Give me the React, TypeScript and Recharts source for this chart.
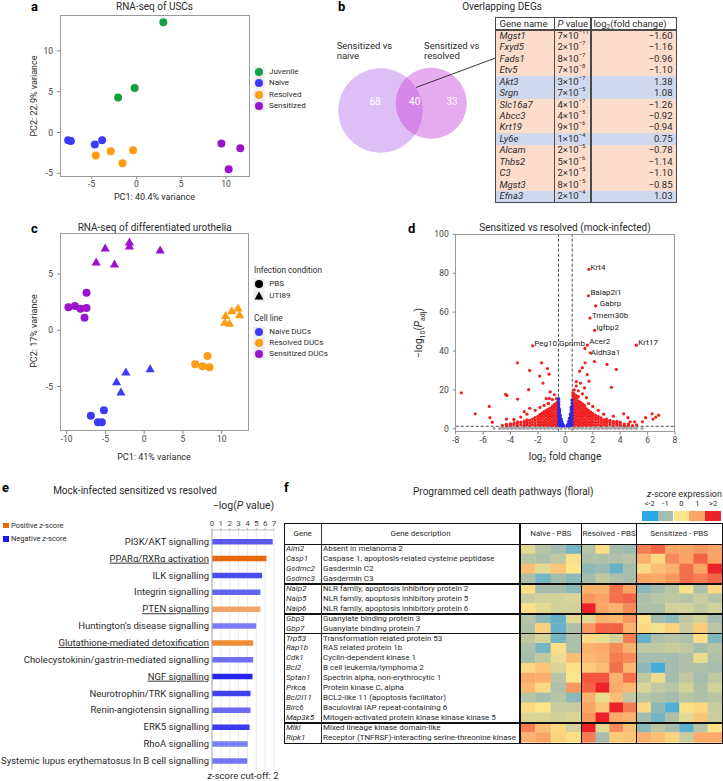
import React from 'react';
import {
  ScatterChart, Scatter, XAxis, YAxis, ReferenceLine,
  BarChart, Bar, Cell, CartesianGrid, PieChart, Pie,
} from 'recharts';

const FONT = "Roboto, 'Noto Sans', 'DejaVu Sans', sans-serif";
const INK = '#2b2b2b';
const AXIS = '#8a8a8a';
const C_GREEN = '#13a043';
const C_BLUE = '#3b3bf6';
const C_ORANGE = '#ff9c12';
const C_PURPLE = '#9c12cc';

type P = { x: number; y: number };
type Col = [number, number[]];

// ---------------- panel a : RNA-seq of USCs
const uscJuvenile: P[] = [{ x: 3.0, y: 13.5 }, { x: -2.05, y: 4.3 }, { x: -0.2, y: 5.45 }];
const uscNaive: P[] = [{ x: -7.63, y: -0.95 }, { x: -7.33, y: -1.03 }, { x: -4.65, y: -1.48 }, { x: -3.84, y: -0.95 }];
const uscResolved: P[] = [{ x: -4.54, y: -2.83 }, { x: -2.87, y: -2.3 }, { x: -1.56, y: -3.78 }, { x: -0.38, y: -2.18 }];
const uscSensitized: P[] = [{ x: 9.49, y: -1.35 }, { x: 11.6, y: -1.93 }, { x: 10.3, y: -4.5 }];
const uscLegend = ['Juvenile', 'Naive', 'Resolved', 'Sensitized'];
const uscTicksX = [-5, 0, 5, 10];
const uscTicksY = [-5, 0, 5, 10];

// ---------------- panel b : overlapping DEGs
const vennSets = [
  { name: 'Sensitized vs naive', value: 108 },
  { name: 'Sensitized vs resolved', value: 73 },
];
const vennCounts = [68, 40, 33];
const degGenes = ['Mgst1', 'Fxyd5', 'Fads1', 'Etv5', 'Akt3', 'Srgn', 'Slc16a7', 'Abcc3', 'Krt19', 'Ly6e', 'Alcam', 'Thbs2', 'C3', 'Mgst3', 'Efna3'];
const degPMant = [7, 2, 8, 7, 3, 7, 4, 4, 9, 1, 2, 5, 2, 8, 2];
const degPExp = [-11, -7, -7, -8, -7, -5, -7, -5, -6, -4, -5, -6, -5, -5, -4];
const degLog2FC = [-1.6, -1.16, -0.96, -1.1, 1.38, 1.08, -1.26, -0.92, -0.94, 0.75, -0.78, -1.14, -1.1, -0.85, 1.03];

// ---------------- panel c : differentiated urothelia
const ducNaivePBS: P[] = [{ x: -5.2, y: -7.12 }, { x: -6.88, y: -7.6 }, { x: -5.97, y: -8.19 }, { x: -5.46, y: -8.19 }];
const ducNaiveUTI: P[] = [{ x: -2.36, y: -3.74 }, { x: 0.77, y: -3.44 }, { x: -3.57, y: -4.6 }, { x: -3.0, y: -5.52 }];
const ducResolvedPBS: P[] = [{ x: 6.58, y: -3.02 }, { x: 7.53, y: -3.2 }, { x: 8.17, y: -2.29 }, { x: 8.43, y: -3.29 }];
const ducResolvedUTI: P[] = [{ x: 10.5, y: 1.3 }, { x: 11.3, y: 1.72 }, { x: 12.1, y: 1.96 }, { x: 12.3, y: 1.36 }, { x: 10.4, y: 0.68 }, { x: 11.0, y: 0.59 }];
const ducSensitizedPBS: P[] = [{ x: -9.77, y: 2.05 }, { x: -8.94, y: 2.16 }, { x: -8.22, y: 1.92 }, { x: -7.44, y: 1.98 }, { x: -7.44, y: 3.35 }, { x: -7.7, y: 1.12 }];
const ducSensitizedUTI: P[] = [{ x: -5.03, y: 7.3 }, { x: -1.9, y: 7.83 }, { x: -1.9, y: 7.47 }, { x: 2.06, y: 7.12 }, { x: -6.19, y: 6.05 }, { x: -3.83, y: 5.87 }];
const ducTicksX = [-10, -5, 0, 5, 10];
const ducTicksY = [-5, 0, 5];
const ducCondition = ['PBS', 'UTI89'];
const ducCellLine = ['Naive DUCs', 'Resolved DUCs', 'Sensitized DUCs'];

// ---------------- panel d : volcano
const volcanoRedLeft: Col[] = [
  [-0.55, [2, 3.5, 5, 6.5, 8, 9.5, 11, 12.5, 14]],
  [-0.65, [1.6, 2.8, 4.2, 5.8, 7.2, 8.8, 10.2, 11.8, 13.2, 15.5]],
  [-0.8, [2.2, 3.8, 5.2, 6.8, 8.2, 9.8, 11.2, 12.6, 17.5]],
  [-0.95, [1.6, 3, 4.4, 6, 7.4, 8.8, 10.4, 11.6, 15]],
  [-1.1, [2, 3.4, 5, 6.4, 7.8, 9.2, 10.6, 19]],
  [-1.25, [1.7, 3, 4.6, 6, 7.4, 8.8, 10, 13]],
  [-1.4, [2.1, 3.6, 5, 6.6, 8, 9.4, 15.5]],
  [-1.55, [1.8, 3.2, 4.6, 6.2, 7.6, 8.8, 12]],
  [-1.7, [2.2, 3.6, 5.2, 6.6, 8]],
  [-1.85, [1.8, 3.2, 4.6, 6, 7.4, 11]],
  [-2.0, [2.1, 3.6, 5, 6.4]],
  [-2.2, [1.8, 3.2, 4.6, 5.8, 9.5]],
  [-2.4, [2.2, 3.6, 5]],
  [-2.6, [1.7, 3, 4.4, 10.5]],
  [-2.8, [2.1, 3.4, 4.6, 7.5]],
  [-3.0, [1.8, 3, 4, 8.8]],
  [-3.25, [2.2, 3.4, 6]],
  [-3.5, [1.7, 2.8, 3.6]],
  [-3.75, [2.1, 3, 4.8]],
  [-4.0, [1.8, 2.6]],
  [-4.3, [1.6, 2.3, 5]],
  [-4.6, [1.8]],
];
const volcanoRedRight: Col[] = [
  [0.55, [2, 3.5, 5, 6.5, 8, 9.5, 11, 12.5, 14, 15.5, 17, 18.5]],
  [0.65, [1.6, 2.8, 4.2, 5.8, 7.2, 8.8, 10.2, 11.8, 13.2, 14.8, 16.2, 17.8, 20]],
  [0.8, [2.2, 3.8, 5.2, 6.8, 8.2, 9.8, 11.2, 12.6, 14, 15.6, 17, 22]],
  [0.95, [1.6, 3, 4.4, 6, 7.4, 8.8, 10.4, 11.6, 13, 14.4, 16.5, 19.5]],
  [1.1, [2, 3.4, 5, 6.4, 7.8, 9.2, 10.6, 12, 13.6, 23.5]],
  [1.25, [1.7, 3, 4.6, 6, 7.4, 8.8, 10, 11.4, 12.8, 18]],
  [1.4, [2.1, 3.6, 5, 6.6, 8, 9.4, 10.8, 12, 21]],
  [1.55, [1.8, 3.2, 4.6, 6.2, 7.6, 8.8, 10.2, 16]],
  [1.7, [2.2, 3.6, 5.2, 6.6, 8, 9.4, 13]],
  [1.85, [1.8, 3.2, 4.6, 6, 7.4, 8.6]],
  [2.0, [2.1, 3.6, 5, 6.4, 7.8, 11.5]],
  [2.2, [1.8, 3.2, 4.6, 5.8, 7]],
  [2.4, [2.2, 3.6, 5, 6.2, 9.5]],
  [2.6, [1.7, 3, 4.4, 5.6]],
  [2.8, [2.1, 3.4, 4.6, 7.5]],
  [3.0, [1.8, 3, 4, 5]],
  [3.25, [2.2, 3.4, 4.4]],
  [3.5, [1.7, 2.8, 3.8, 6.5]],
  [3.75, [2.1, 3, 3.8]],
  [4.0, [1.8, 2.6, 3.4]],
  [4.3, [1.6, 2.4]],
  [4.6, [1.8, 2.6]],
  [4.9, [1.7]],
  [5.2, [2]],
];
const volcanoRedSparse: [number, number][] = [
  [-7.59, 18.5], [-6.57, 7.7], [-5.55, 11.5], [-5.5, 5.7], [-5.33, 3.4], [-4.26, 17.1], [-4.36, 17.7],
  [-3.5, 33.9], [-3.48, 15.3], [-2.6, 30.0], [-2.68, 20.1], [-1.73, 33.9], [-1.31, 31.0], [-1.19, 28.1],
  [-1.87, 27.1], [-1.63, 23.5], [-1.17, 15.6], [-1.24, 13.0],
  [1.44, 33.9], [2.12, 34.6], [3.04, 33.1], [3.72, 30.5], [1.24, 31.4], [1.05, 29.6], [1.6, 27.9],
  [1.73, 24.5], [3.36, 21.3], [0.8, 24.2], [4.26, 7.7], [4.74, 3.6], [5.06, 3.6], [5.62, 3.6],
  [6.33, 7.7], [6.4, 5.0], [6.6, 6.0], [6.81, 7.0], [5.86, 5.7], [4.57, 5.7],
];
const volcanoBlue: Col[] = [
  [-0.48, [2, 3.5, 5, 6.5, 8, 9.5, 11, 12.5, 14, 15.5]],
  [-0.42, [1.8, 3.2, 4.6, 6, 7.4, 8.8, 10]],
  [-0.36, [1.7, 3, 4.3, 5.6, 6.8]],
  [-0.3, [1.6, 2.8, 4, 5]],
  [-0.24, [1.5, 2.5, 3.5]],
  [-0.18, [1.5, 2.3]],
  [-0.12, [1.5]],
  [0.12, [1.5]],
  [0.18, [1.5, 2.3]],
  [0.24, [1.5, 2.6, 3.7]],
  [0.3, [1.6, 2.9, 4.2, 5.4]],
  [0.36, [1.7, 3.1, 4.6, 6, 7.4]],
  [0.42, [1.8, 3.3, 4.8, 6.4, 8, 9.6, 11]],
  [0.48, [2, 3.6, 5.2, 6.8, 8.4, 10, 11.6, 13.2, 14.8]],
];
const volcanoGrayRows: [number, number[]][] = [
  [0.2, [-5.2, -4.8, -4.5, -4.2, -3.9, -3.6, -3.3, -3, -2.7, -2.4, -2.1, -1.8, -1.5, -1.2, -0.9, -0.6, -0.3, 0, 0.3, 0.6, 0.9, 1.2, 1.5, 1.8, 2.1, 2.4, 2.7, 3, 3.3, 3.6, 3.9, 4.2, 4.5, 4.8, 5.2, 5.6]],
  [0.55, [-4.6, -4.3, -4, -3.7, -3.4, -3.1, -2.8, -2.5, -2.2, -1.9, -1.6, -1.3, -1, -0.7, -0.4, 0.4, 0.7, 1, 1.3, 1.6, 1.9, 2.2, 2.5, 2.8, 3.1, 3.4, 3.7, 4, 4.3, 4.6, 5]],
  [0.9, [-4.2, -3.9, -3.6, -3.3, -3, -2.7, -2.4, -2.1, -1.8, -1.5, -1.2, -0.9, -0.6, 0.6, 0.9, 1.2, 1.5, 1.8, 2.1, 2.4, 2.7, 3, 3.3, 3.6, 3.9, 4.2, 4.6]],
  [1.2, [-3.5, -3, -2.5, -2, -1.5, -1, -0.7, 0.7, 1, 1.5, 2, 2.5, 3, 3.5, 4]],
];
const volcanoLabelled = [
  { gene: 'Krt4', x: 1.72, y: 82 },
  { gene: 'Baiap2l1', x: 1.68, y: 68.4 },
  { gene: 'Gabrp', x: 2.21, y: 63.2 },
  { gene: 'Tmem30b', x: 1.8, y: 56.9 },
  { gene: 'Igfbp2', x: 2.14, y: 50.6 },
  { gene: 'Acer2', x: 1.6, y: 43 },
  { gene: 'Aldh3a1', x: 1.82, y: 39.1 },
  { gene: 'Krt17', x: 5.18, y: 43 },
  { gene: 'Peg10', x: -2.39, y: 42.7 },
  { gene: 'Gpnmb', x: 1.43, y: 41.3 },
];
const volcanoTicksX = [-8, -6, -4, -2, 0, 2, 4, 6, 8];
const volcanoTicksY = [0, 20, 40, 60, 80, 100];
const foldCutoff = 0.5;
const padjCutoff = 1.3;

// ---------------- panel e : pathways
const pathways = [
  'PI3K/AKT signalling', 'PPARα/RXRα activation', 'ILK signalling', 'Integrin signalling',
  'PTEN signalling', 'Huntington’s disease signalling', 'Glutathione-mediated detoxification',
  'Cholecystokinin/gastrin-mediated signalling', 'NGF signalling', 'Neurotrophin/TRK signalling',
  'Renin-angiotensin signalling', 'ERK5 signalling', 'RhoA signalling',
  'Systemic lupus erythematosus In B cell signalling',
];
const pathwayLogP = [6.85, 6.15, 5.66, 5.47, 5.47, 4.99, 4.65, 4.65, 4.57, 4.35, 4.35, 4.24, 4.04, 3.98];
const pathwayColors = ['#5a5af2', '#e8680c', '#4c4cf2', '#6464f2', '#f2a468', '#7c7cf4', '#f08c34', '#6e6ef2', '#2424ea', '#4242ee', '#6a6af2', '#3a3aee', '#7e7ef4', '#7676f4'];
const pathwayUnderlined = ['PPARα/RXRα activation', 'PTEN signalling', 'Glutathione-mediated detoxification', 'NGF signalling'];
const pathwayTicks = [0, 1, 2, 3, 4, 5, 6, 7];

// ---------------- panel f : heatmap
const pcdGenes = ['Aim2', 'Casp1', 'Gsdmc2', 'Gsdmc3', 'Naip2', 'Naip5', 'Naip6', 'Gbp3', 'Gbp7', 'Trp53', 'Rap1b', 'Cdk1', 'Bcl2', 'Sptan1', 'Prkca', 'Bcl2l11', 'Birc6', 'Map3k5', 'Mlkl', 'Ripk1'];
const pcdDescriptions = [
  'Absent in melanoma 2', 'Caspase 1, apoptosis-related cysteine peptidase', 'Gasdermin C2', 'Gasdermin C3',
  'NLR family, apoptosis inhibitory protein 2', 'NLR family, apoptosis inhibitory protein 5', 'NLR family, apoptosis inhibitory protein 6',
  'Guanylate binding protein 3', 'Guanylate binding protein 7',
  'Transformation related protein 53', 'RAS related protein 1b', 'Cyclin-dependent kinase 1', 'B cell leukemia/lymphoma 2',
  'Spectrin alpha, non-erythrocytic 1', 'Protein kinase C, alpha', 'BCL2-like 11 (apoptosis facilitator)',
  'Baculoviral IAP repeat-containing 6', 'Mitogen-activated protein kinase kinase kinase 5',
  'Mixed lineage kinase domain-like', 'Receptor (TNFRSF)-interacting serine-threonine kinase 1',
];
const pcdGroupEnds = [4, 7, 9, 18];
const pcdConditions = ['Naïve - PBS', 'Resolved - PBS', 'Sensitized - PBS'];
const naiveZ = [
  [-0.3, -0.8, -1.0, -1.4], [-0.8, -0.9, -0.7, -0.1], [0.6, -0.3, 0.5, 0.0], [-0.9, -1.4, -1.0, -1.2],
  [0.1, -1.0, -1.0, -1.2], [-0.6, -0.5, -0.5, -0.4], [0.1, -0.3, -0.5, -0.5],
  [-0.8, -1.2, -1.5, -0.3], [-0.9, 0.3, -1.5, -0.9],
  [-0.7, -0.4, -1.4, -0.9], [-0.9, -1.4, 0.1, -0.9], [-1.0, -0.7, -0.2, 0.6], [0.2, 0.5, -0.4, 0.1],
  [0.9, 0.8, -0.8, 0.0], [0.7, 0.2, -0.9, 1.1], [-0.8, -1.0, -0.8, -1.2], [0.2, 0.0, -0.6, -0.6], [-0.4, -0.4, -0.5, -0.4],
  [1.3, 0.6, 0.2, -0.5], [0.8, 1.0, 0.3, 0.1],
];
const resolvedZ = [
  [-0.8, 0.1, -1.0, -1.1], [-0.9, -0.9, -0.9, -0.8], [-1.2, -1.1, -1.5, -1.0], [-1.0, -0.7, -0.9, -1.0],
  [0.8, 0.8, 1.4, 1.0], [1.1, 1.0, 1.4, 1.5], [2.0, 1.0, 0.8, 1.2],
  [-0.3, 0.8, 0.7, 1.1], [1.1, 1.5, 1.5, 0.8],
  [0.2, -0.2, -0.5, 1.3], [0.8, 0.9, 1.2, 0.8], [0.7, 0.8, 1.3, 1.2], [0.4, 0.6, 1.4, 0.7],
  [1.6, 1.6, 0.8, 1.4], [1.5, 2.0, 0.9, 0.7], [0.8, -0.2, 0.6, -0.7], [1.0, 0.5, 2.0, 1.3], [1.1, 2.0, 0.9, 0.8],
  [2.0, -0.3, 1.2, 0.6], [1.3, -1.0, 0.4, 0.5],
];
const sensitizedZ = [
  [1.3, 1.5, 1.0, 1.0, 1.1, 1.0], [0.8, 0.2, 1.2, 1.0, 1.5, 1.0], [0.2, 0.6, 0.8, 1.4, 1.0, 2.0], [1.0, 0.9, 1.1, 1.4, 1.3, 1.5],
  [-1.2, -1.0, -0.8, -0.1, -0.9, 0.2], [-0.9, -0.8, -0.7, -0.8, -0.6, -0.8], [-0.9, -0.9, -0.5, -0.5, -0.7, -0.5],
  [0.1, -1.0, -1.2, -0.7, -0.5, -1.0], [0.2, -0.1, 0.3, -0.6, 0.4, -0.8],
  [-1.5, -0.9, -0.8, -0.9, 0.1, -1.3], [-0.7, -0.7, -0.6, -0.7, -1.0, -0.8], [-1.0, -1.0, -1.0, -0.9, -0.2, -0.9],
  [-1.2, -1.8, -1.0, -0.9, -0.9, -1.0], [-0.7, -0.2, -1.0, -0.7, -1.0, -0.7], [-0.4, -0.7, -0.8, -0.5, -0.9, -0.5],
  [-0.8, -0.9, -1.0, -0.8, -0.9, -0.8], [0.2, -1.2, -1.7, 0.1, 0.2, -0.6], [-1.0, -1.4, -0.9, -0.3, 0.5, -0.6],
  [-1.2, -0.8, -1.0, -1.6, -0.8, 0.0], [0.8, 0.6, 0.3, -0.6, 0.9, 0.9],
];
const zLegendValues = [-2, -1, 0, 1, 2];
const zLegendLabels = ['<-2', '-1', '0', '1', '>2'];

// ---------------- helpers
const fromCols = (cols: Col[]) => cols.flatMap(([x, ys]) => ys.map((y) => ({ x, y })));
const zStops: [number, number[]][] = [
  [-2, [42, 168, 230]], [-1, [166, 188, 172]], [0, [251, 229, 136]], [1, [250, 164, 102]], [2, [236, 34, 38]],
];
function zColor(z: number) {
  const v = Math.max(-2, Math.min(2, z));
  for (let i = 0; i < zStops.length - 1; i++) {
    const [a, ca] = zStops[i];
    const [b, cb] = zStops[i + 1];
    if (v <= b) {
      const t = (v - a) / (b - a);
      const c = ca.map((q, k) => Math.round(q + (cb[k] - q) * t));
      return `rgb(${c[0]},${c[1]},${c[2]})`;
    }
  }
  return 'rgb(236,34,38)';
}

const tickSt = { fontSize: 8.5, fill: '#444' };

const T = ({ x, y, s = 9, a = 'start', c = INK, w, st, children }: any) => (
  <div
    style={{
      position: 'absolute', left: x, top: y, fontSize: s, lineHeight: 1.15, color: c, fontWeight: w,
      whiteSpace: 'nowrap',
      transform: `translate(${a === 'middle' ? '-50%' : a === 'end' ? '-100%' : '0'},-50%)`,
      ...st,
    }}
  >
    {children}
  </div>
);
const RotT = ({ x, y, s = 9, children }: any) => (
  <div style={{ position: 'absolute', left: x, top: y, fontSize: s, lineHeight: 1.15, color: INK, whiteSpace: 'nowrap', transform: 'translate(-50%,-50%) rotate(-90deg)' }}>
    {children}
  </div>
);
const Box = ({ l, t, r, b, c = '#9a9a9a', w = 1 }: any) => (
  <div style={{ position: 'absolute', left: l - w / 2, top: t - w / 2, width: r - l + w, height: b - t + w, border: `${w}px solid ${c}`, boxSizing: 'border-box', pointerEvents: 'none' }} />
);
const HL = ({ x1, x2, y, w = 1, c = '#111' }: any) => (
  <div style={{ position: 'absolute', left: x1, top: y - w / 2, width: x2 - x1, height: w, background: c }} />
);
const VL = ({ x, y1, y2, w = 1, c = '#111' }: any) => (
  <div style={{ position: 'absolute', left: x - w / 2, top: y1, width: w, height: y2 - y1, background: c }} />
);
const Abs = ({ l, t, children }: any) => <div style={{ position: 'absolute', left: l, top: t }}>{children}</div>;

const dotShape = (color: string, r: number) => (p: any) => <circle cx={p.cx} cy={p.cy} r={r} fill={color} />;
const triShape = (color: string) => (p: any) => (
  <polygon points={`${p.cx},${p.cy - 4.8} ${p.cx - 4.6},${p.cy + 3.2} ${p.cx + 4.6},${p.cy + 3.2}`} fill={color} />
);
const LegendKey = ({ x, y, kind = 'circle', color = '#000' }: any) => (
  <svg style={{ position: 'absolute', left: x - 6, top: y - 6 }} width={12} height={12}>
    <rect x={0.5} y={0.5} width={11} height={11} fill="#ececec" />
    {kind === 'circle' ? <circle cx={6} cy={6} r={4} fill={color} /> : <polygon points="6,1.4 1.6,9.6 10.4,9.6" fill={color} />}
  </svg>
);
const PanelLetter = ({ x, y, children }: any) => <T x={x} y={y} s={13} w={700} c="#000">{children}</T>;

// ---------------- panels
function PanelA() {
  const series = [
    { name: uscLegend[0], data: uscJuvenile, color: C_GREEN },
    { name: uscLegend[1], data: uscNaive, color: C_BLUE },
    { name: uscLegend[2], data: uscResolved, color: C_ORANGE },
    { name: uscLegend[3], data: uscSensitized, color: C_PURPLE },
  ];
  return (
    <>
      <PanelLetter x={31} y={7}>a</PanelLetter>
      <T x={154.5} y={7} s={10} a="middle">RNA-seq of USCs</T>
      <Abs l={0} t={0}>
        <ScatterChart width={260} height={205} margin={{ top: 15, right: 11, bottom: 0, left: 0 }}>
          <XAxis type="number" dataKey="x" domain={[-8.54, 12.57]} ticks={uscTicksX} interval={0} height={29} axisLine={false} tickSize={3} tickLine={{ stroke: AXIS }} tick={tickSt} allowDataOverflow />
          <YAxis type="number" dataKey="y" domain={[-5.33, 14.4]} ticks={uscTicksY} interval={0} width={60} axisLine={false} tickSize={3} tickMargin={4} tickLine={{ stroke: AXIS }} tick={tickSt} allowDataOverflow />
          {series.map((s) => (
            <Scatter key={s.name} name={s.name} data={s.data} fill={s.color} shape={dotShape(s.color, 4)} isAnimationActive={false} />
          ))}
        </ScatterChart>
      </Abs>
      <Box l={60} t={15} r={249} b={176} />
      <T x={154.5} y={197} s={9} a="middle">PC1: 40.4% variance</T>
      <RotT x={34} y={96} s={9}>PC2: 22.9% variance</RotT>
      {series.map((s, i) => (
        <React.Fragment key={s.name}>
          <LegendKey x={259} y={72 + i * 11.4} color={s.color} />
          <T x={269} y={72 + i * 11.4} s={8}>{s.name}</T>
        </React.Fragment>
      ))}
    </>
  );
}

function PanelB() {
  const top = 17.7, head = 30, rowH = 11.47, left = 495.7, right = 676, c1 = 554.7, c2 = 591;
  const bottom = head + rowH * degGenes.length;
  return (
    <>
      <PanelLetter x={338} y={7}>b</PanelLetter>
      <T x={502} y={7} s={10} a="middle">Overlapping DEGs</T>
      <T x={336.7} y={45.5} s={9.5}>Sensitized vs</T>
      <T x={336.7} y={56} s={9.5}>naive</T>
      <T x={424} y={45.5} s={9.5}>Sensitized vs</T>
      <T x={424} y={56} s={9.5}>resolved</T>
      <Abs l={330} t={60}>
        <PieChart width={150} height={100} margin={{ top: 0, right: 0, bottom: 0, left: 0 }}>
          <Pie data={[vennSets[0]]} dataKey="value" cx={50.5} cy={50.5} innerRadius={0} outerRadius={42.2} startAngle={90} endAngle={-270} stroke="none" isAnimationActive={false}>
            <Cell fill="rgb(222,190,246)" />
          </Pie>
          <Pie data={[vennSets[1]]} dataKey="value" cx={101.2} cy={43.3} innerRadius={0} outerRadius={35.5} startAngle={90} endAngle={-270} stroke="none" isAnimationActive={false}>
            <Cell fill="rgb(200,67,218)" fillOpacity={0.45} />
          </Pie>
        </PieChart>
      </Abs>
      <T x={375} y={102} s={10} a="middle" c="#fff">{vennCounts[0]}</T>
      <T x={414.7} y={102} s={10} a="middle" c="#fff">{vennCounts[1]}</T>
      <T x={452} y={102} s={10} a="middle" c="#fff">{vennCounts[2]}</T>
      <svg style={{ position: 'absolute', left: 0, top: 0 }} width={723} height={240}>
        <line x1={416} y1={87.5} x2={495.5} y2={58} stroke="#222" strokeWidth={0.9} />
      </svg>
      {degGenes.map((g, i) => {
        const y = head + i * rowH;
        const up = degLog2FC[i] > 0;
        return (
          <React.Fragment key={g}>
            <div style={{ position: 'absolute', left, top: y, width: right - left, height: rowH, background: up ? '#cfd8ef' : '#fcdccb' }} />
            <T x={499.5} y={y + rowH / 2} s={9.5} st={{ fontStyle: 'italic' }}>{g}</T>
            <T x={557.5} y={y + rowH / 2} s={9.5}>
              {degPMant[i]}×10<sup style={{ fontSize: 6, verticalAlign: 'top', position: 'relative', top: -2 }}>{'\u2212' + Math.abs(degPExp[i])}</sup>
            </T>
            <T x={672.5} y={y + rowH / 2} s={9.5} a="end">{(degLog2FC[i] < 0 ? '\u2212' : '') + Math.abs(degLog2FC[i]).toFixed(2)}</T>
          </React.Fragment>
        );
      })}
      <T x={499.5} y={24} s={9.5}>Gene name</T>
      <T x={557.5} y={24} s={9.5}><i>P</i> value</T>
      <T x={593.5} y={24} s={9.5}>log<sub style={{ fontSize: 6.5, verticalAlign: 'baseline', position: 'relative', top: 2 }}>2</sub>(fold change)</T>
      <Box l={left} t={top} r={right} b={bottom} c="#4a4a4a" w={1.5} />
      <HL x1={left} x2={right} y={head} w={1.5} c="#4a4a4a" />
      <VL x={c1} y1={top} y2={bottom} w={1.5} c="#4a4a4a" />
      <VL x={c2} y1={top} y2={bottom} w={1.5} c="#4a4a4a" />
    </>
  );
}

function PanelC() {
  const series = [
    { data: ducNaivePBS, color: C_BLUE, tri: false },
    { data: ducNaiveUTI, color: C_BLUE, tri: true },
    { data: ducResolvedPBS, color: C_ORANGE, tri: false },
    { data: ducResolvedUTI, color: C_ORANGE, tri: true },
    { data: ducSensitizedPBS, color: C_PURPLE, tri: false },
    { data: ducSensitizedUTI, color: C_PURPLE, tri: true },
  ];
  const lineColors = [C_BLUE, C_ORANGE, C_PURPLE];
  return (
    <>
      <PanelLetter x={31} y={229}>c</PanelLetter>
      <T x={154.7} y={228} s={10} a="middle">RNA-seq of differentiated urothelia</T>
      <Abs l={0} t={225}>
        <ScatterChart width={260} height={235} margin={{ top: 8.3, right: 11.7, bottom: 0, left: 0 }}>
          <XAxis type="number" dataKey="x" domain={[-10.86, 13.43]} ticks={ducTicksX} interval={0} height={29} axisLine={false} tickSize={3} tickLine={{ stroke: AXIS }} tick={tickSt} allowDataOverflow />
          <YAxis type="number" dataKey="y" domain={[-8.96, 8.63]} ticks={ducTicksY} interval={0} width={60} axisLine={false} tickSize={3} tickMargin={4} tickLine={{ stroke: AXIS }} tick={tickSt} allowDataOverflow />
          {series.map((s, i) => (
            <Scatter key={i} data={s.data} fill={s.color} shape={s.tri ? triShape(s.color) : dotShape(s.color, 4)} isAnimationActive={false} />
          ))}
        </ScatterChart>
      </Abs>
      <Box l={60} t={233.3} r={248.3} b={431} />
      <T x={154} y={456.5} s={9} a="middle">PC1: 41% variance</T>
      <RotT x={34} y={331} s={9}>PC2: 17% variance</RotT>
      <T x={254} y={271.3} s={8.2}>Infection condition</T>
      <LegendKey x={258.7} y={284.3} kind="circle" color="#000" />
      <T x={269.3} y={284.3} s={8}>{ducCondition[0]}</T>
      <LegendKey x={258.7} y={295.5} kind="tri" color="#000" />
      <T x={269.3} y={295.5} s={8}>{ducCondition[1]}</T>
      <T x={254} y={319} s={8.2}>Cell line</T>
      {ducCellLine.map((n, i) => (
        <React.Fragment key={n}>
          <LegendKey x={258.7} y={331.7 + i * 11.3} color={lineColors[i]} />
          <T x={269.3} y={331.7 + i * 11.3} s={8}>{n}</T>
        </React.Fragment>
      ))}
    </>
  );
}

function PanelD() {
  const gray = volcanoGrayRows.flatMap(([y, xs]) => xs.map((x) => ({ x, y })));
  const red = [...fromCols(volcanoRedLeft), ...fromCols(volcanoRedRight), ...volcanoRedSparse.map(([x, y]) => ({ x, y }))];
  const blue = fromCols(volcanoBlue);
  const labelOffset: Record<string, [number, number, string]> = {
    Krt4: [1.5, -2.6, 'start'], Baiap2l1: [2, -4, 'start'], Gabrp: [4, -2.7, 'start'], Tmem30b: [2, -3, 'start'],
    Igfbp2: [1.5, -3.3, 'start'], Acer2: [2, -3.5, 'start'], Aldh3a1: [0.5, -0.5, 'start'], Krt17: [2, -3, 'start'],
    Peg10: [1.7, -3, 'start'], Gpnmb: [0, -5.6, 'end'],
  };
  const labelShape = (p: any) => {
    const o = labelOffset[p.payload.gene];
    return (
      <g>
        <circle cx={p.cx} cy={p.cy} r={1.6} fill="#ef2020" />
        <text x={p.cx + o[0]} y={p.cy + o[1] + 2.8} fontSize={8} fill="#222" textAnchor={o[2] as any}>{p.payload.gene}</text>
      </g>
    );
  };
  return (
    <>
      <PanelLetter x={408} y={229}>d</PanelLetter>
      <T x={565} y={227.5} s={10} a="middle">Sensitized vs resolved (mock-infected)</T>
      <Abs l={360} t={225}>
        <ScatterChart width={330} height={235} margin={{ top: 9.3, right: 15, bottom: 0, left: 0 }}>
          <XAxis type="number" dataKey="x" domain={[-8, 8]} ticks={volcanoTicksX} interval={0} height={28.3} axisLine={false} tickSize={3} tickLine={{ stroke: AXIS }} tick={tickSt} allowDataOverflow />
          <YAxis type="number" dataKey="y" domain={[-1.5, 100]} ticks={volcanoTicksY} interval={0} width={95.7} axisLine={false} tickSize={3} tickMargin={4} tickLine={{ stroke: AXIS }} tick={tickSt} allowDataOverflow />
          <Scatter data={gray} shape={dotShape('#a9a9a9', 1.6)} isAnimationActive={false} />
          <Scatter data={red} shape={dotShape('#ef2020', 1.6)} isAnimationActive={false} />
          <Scatter data={blue} shape={dotShape('#2a2ae6', 1.6)} isAnimationActive={false} />
          <ReferenceLine x={-foldCutoff} stroke="#333" strokeDasharray="3 2" strokeWidth={0.9} />
          <ReferenceLine x={foldCutoff} stroke="#333" strokeDasharray="3 2" strokeWidth={0.9} />
          <ReferenceLine y={padjCutoff} stroke="#333" strokeDasharray="3 2" strokeWidth={0.9} />
          <Scatter data={volcanoLabelled} shape={labelShape} isAnimationActive={false} />
        </ScatterChart>
      </Abs>
      <Box l={455.7} t={234.3} r={675} b={431.7} />
      <T x={565} y={456.5} s={10} a="middle">log<sub style={{ fontSize: 7, verticalAlign: 'baseline', position: 'relative', top: 2.5 }}>2</sub> fold change</T>
      <RotT x={418.5} y={333} s={10}>
        {'\u2212'}log<sub style={{ fontSize: 7, verticalAlign: 'baseline', position: 'relative', top: 2.5 }}>10</sub>(<i>P</i><sub style={{ fontSize: 7, verticalAlign: 'baseline', position: 'relative', top: 2.5 }}>adj</sub>)
      </RotT>
    </>
  );
}

function PanelE() {
  const data = pathways.map((name, i) => ({ name, value: pathwayLogP[i] }));
  const pathTick = (p: any) => (
    <text x={p.x - 3} y={p.y + 3.4} textAnchor="end" fontSize={9.5} fill={INK}
      style={{ textDecoration: pathwayUnderlined.includes(p.payload.value) ? 'underline' : 'none' }}>
      {p.payload.value}
    </text>
  );
  return (
    <>
      <PanelLetter x={2} y={488}>e</PanelLetter>
      <T x={135} y={491} s={10} a="middle">Mock-infected sensitized vs resolved</T>
      <T x={243.5} y={506} s={10.5} a="middle">{'\u2212'}log(<i>P</i> value)</T>
      <div style={{ position: 'absolute', left: 3, top: 522.5, width: 5.5, height: 5.5, background: '#e8680c' }} />
      <T x={11} y={525.7} s={7.5}>Positive <i>z</i>-score</T>
      <div style={{ position: 'absolute', left: 3, top: 536, width: 5.5, height: 5.5, background: '#1a1aee' }} />
      <T x={11} y={539} s={7.5}>Negative <i>z</i>-score</T>
      <Abs l={0} t={500}>
        <BarChart layout="vertical" width={280} height={269} data={data} margin={{ top: 0, right: 6, bottom: 0, left: 0 }} barSize={5.5}>
          <CartesianGrid horizontal={false} stroke="#ebebeb" />
          <XAxis type="number" orientation="top" domain={[0, 7]} ticks={pathwayTicks} interval={0} height={30} tickSize={2} tickMargin={2}
            tick={{ fontSize: 8, fill: '#444' }} axisLine={{ stroke: '#bbb' }} tickLine={{ stroke: '#bbb' }} />
          <YAxis type="category" dataKey="name" width={212} interval={0} tick={pathTick} tickLine={false} tickSize={0} tickMargin={0}
            axisLine={{ stroke: '#aaa' }} padding={{ top: 3, bottom: 0 }} />
          <Bar dataKey="value" isAnimationActive={false}>
            {data.map((d, i) => <Cell key={d.name} fill={pathwayColors[i]} />)}
          </Bar>
        </BarChart>
      </Abs>
      <T x={243} y={776} s={9.5} a="middle"><i>z</i>-score cut-off: 2</T>
    </>
  );
}

function PanelF() {
  const L = 284.3, R = 721.7, TOP = 523.3, HEAD = 544.3, ROW = 9.92;
  const BOT = HEAD + ROW * pcdGenes.length;
  const blocks = [
    { left: 520, width: 61.7, z: naiveZ, label: pcdConditions[0] },
    { left: 581.7, width: 55, z: resolvedZ, label: pcdConditions[1] },
    { left: 636.7, width: 85, z: sensitizedZ, label: pcdConditions[2] },
  ];
  const H = BOT - HEAD;
  return (
    <>
      <PanelLetter x={284} y={488}>f</PanelLetter>
      <T x={503.3} y={491.7} s={10} a="middle">Programmed cell death pathways (floral)</T>
      <T x={684.5} y={494.3} s={9} a="middle"><i>z</i>-score expression</T>
      {zLegendValues.map((z, i) => (
        <React.Fragment key={z}>
          <div style={{ position: 'absolute', left: 641.7 + i * 15.9, top: 510.7, width: 15.9, height: 10.3, background: zColor(z) }} />
          <T x={649.6 + i * 15.9} y={504.3} s={7.5} a="middle">{zLegendLabels[i]}</T>
        </React.Fragment>
      ))}
      {blocks.map((b) => {
        const nc = b.z[0].length;
        const cw = b.width / nc;
        const data = b.z.flatMap((row, r) => row.map((z, c) => ({ x: c + 0.5, y: r + 0.5, z })));
        const cellShape = (p: any) => (
          <rect x={p.cx - cw / 2 - 0.2} y={p.cy - ROW / 2 - 0.2} width={cw + 0.4} height={ROW + 0.4} fill={zColor(p.payload.z)} />
        );
        return (
          <Abs key={b.label} l={b.left} t={HEAD}>
            <ScatterChart width={b.width} height={H} margin={{ top: 0, right: 0, bottom: 0, left: 0 }}>
              <XAxis type="number" dataKey="x" domain={[0, nc]} hide />
              <YAxis type="number" dataKey="y" domain={[0, pcdGenes.length]} reversed hide />
              <Scatter data={data} shape={cellShape} isAnimationActive={false} />
            </ScatterChart>
          </Abs>
        );
      })}
      <T x={302.7} y={534} s={8} a="middle">Gene</T>
      <T x={420.5} y={534} s={8} a="middle">Gene description</T>
      {blocks.map((b) => (
        <T key={b.label} x={b.left + b.width / 2} y={534} s={8} a="middle">{b.label}</T>
      ))}
      {pcdGenes.map((g, i) => (
        <React.Fragment key={g}>
          <T x={286} y={HEAD + ROW * (i + 0.5)} s={8} st={{ fontStyle: 'italic' }}>{g}</T>
          <T x={323} y={HEAD + ROW * (i + 0.5)} s={8}>{pcdDescriptions[i]}</T>
        </React.Fragment>
      ))}
      <Box l={L} t={TOP} r={R} b={BOT} c="#111" w={1.6} />
      <HL x1={L} x2={R} y={HEAD} w={1.4} />
      {pcdGroupEnds.map((e) => <HL key={e} x1={L} x2={R} y={HEAD + ROW * e} w={1.6} />)}
      <VL x={321} y1={TOP} y2={BOT} w={1} c="#333" />
      <VL x={520} y1={TOP} y2={BOT} w={1.6} />
      <VL x={581.7} y1={TOP} y2={BOT} w={1.6} />
      <VL x={636.7} y1={TOP} y2={BOT} w={1.6} />
    </>
  );
}

export default function App() {
  return (
    <div style={{ position: 'absolute', left: 0, top: 0, width: 723, height: 781, background: '#fff', fontFamily: FONT, color: INK, overflow: 'hidden' }}>
      <PanelA />
      <PanelB />
      <PanelC />
      <PanelD />
      <PanelE />
      <PanelF />
    </div>
  );
}
